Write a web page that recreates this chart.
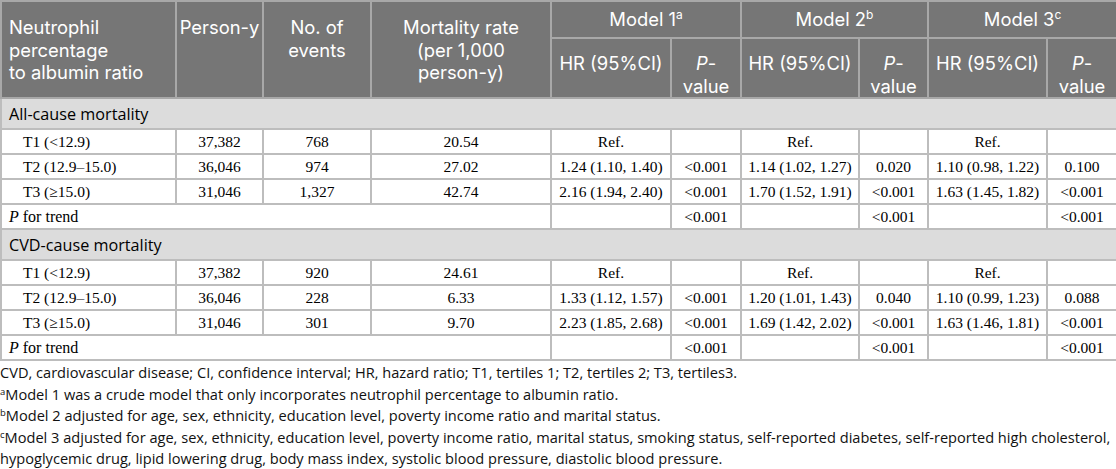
<!DOCTYPE html>
<html>
<head>
<meta charset="utf-8">
<script src="https://cdn.jsdelivr.net/npm/chart.js@4.4.1/dist/chart.umd.min.js"></script>
<style>
  html, body { margin: 0; padding: 0; background: #ffffff; }
  body { width: 1116px; height: 469px; overflow: hidden; position: relative; }
  table { border-collapse: collapse; table-layout: fixed; width: 1116px; position: absolute; left: 0; top: 0; }
  th { background: #767676; color: #ffffff; font-family: "Inter", "Open Sans", sans-serif; font-weight: normal;
       font-size: 18.4px; line-height: 22.5px; border: 2px solid #a8a8a8; padding: 0 2px; white-space: nowrap; }
  th.left { text-align: left; padding-left: 7px; vertical-align: top; padding-top: 14px; }
  th.top { vertical-align: top; padding-top: 14px; text-align: center; }
  th.model { vertical-align: middle; text-align: center; padding-top: 0; }
  th.sub { vertical-align: top; padding-top: 13px; text-align: center; }
  th sup { font-size: 12px; line-height: 0; vertical-align: 7px; }
  td { font-family: "Liberation Serif", "Times New Roman", serif; font-size: 15.5px; color: #000;
       border: 2px solid #bdbdbd; text-align: center; vertical-align: middle; padding: 0 2px; white-space: nowrap; }
  td.tert { text-align: left; padding-left: 21px; }
  td.trend { text-align: left; padding-left: 7px; font-size: 16px; }
  td.section { background: #dcdcdc; text-align: left; padding-left: 7px;
               font-family: "Open Sans", sans-serif; font-size: 16.2px; color: #000; }
  tr.h1 { height: 37px; }
  tr.h2 { height: 60px; }
  tr.sec { height: 31px; }
  tr.row { height: 25px; }
  #notes { position: absolute; left: 0; top: 362px; width: 1116px; font-family: "Open Sans", sans-serif;
           font-size: 14.6px; line-height: 21.5px; color: #111; white-space: nowrap; }
  #notes sup { font-size: 9.5px; line-height: 0; vertical-align: 5px; }
</style>
</head>
<body>
<table id="tbl"></table>
<div id="notes"></div>
<script>
const headerLeft = ['Neutrophil<br>percentage<br>to albumin ratio', 'Person-y', 'No. of<br>events', 'Mortality rate<br>(per 1,000<br>person-y)'];
const modelNames = ['Model 1', 'Model 2', 'Model 3'];
const modelMarks = ['a', 'b', 'c'];
const groups = ['All-cause mortality', 'CVD-cause mortality'];
const tertiles = ['T1 (<12.9)', 'T2 (12.9–15.0)', 'T3 (≥15.0)'];
const personYears = [['37,382', '36,046', '31,046'], ['37,382', '36,046', '31,046']];
const events = [['768', '974', '1,327'], ['920', '228', '301']];
const rates = [['20.54', '27.02', '42.74'], ['24.61', '6.33', '9.70']];
const model1HR = [['Ref.', '1.24 (1.10, 1.40)', '2.16 (1.94, 2.40)'], ['Ref.', '1.33 (1.12, 1.57)', '2.23 (1.85, 2.68)']];
const model1P = [['', '<0.001', '<0.001'], ['', '<0.001', '<0.001']];
const model2HR = [['Ref.', '1.14 (1.02, 1.27)', '1.70 (1.52, 1.91)'], ['Ref.', '1.20 (1.01, 1.43)', '1.69 (1.42, 2.02)']];
const model2P = [['', '0.020', '<0.001'], ['', '0.040', '<0.001']];
const model3HR = [['Ref.', '1.10 (0.98, 1.22)', '1.63 (1.45, 1.82)'], ['Ref.', '1.10 (0.99, 1.23)', '1.63 (1.46, 1.81)']];
const model3P = [['', '0.100', '<0.001'], ['', '0.088', '<0.001']];
const trendP = [['<0.001', '<0.001', '<0.001'], ['<0.001', '<0.001', '<0.001']];
const footnotes = [
  ['', 'CVD, cardiovascular disease; CI, confidence interval; HR, hazard ratio; T1, tertiles 1; T2, tertiles 2; T3, tertiles3.'],
  ['a', 'Model 1 was a crude model that only incorporates neutrophil percentage to albumin ratio.'],
  ['b', 'Model 2 adjusted for age, sex, ethnicity, education level, poverty income ratio and marital status.'],
  ['c', 'Model 3 adjusted for age, sex, ethnicity, education level, poverty income ratio, marital status, smoking status, self-reported diabetes, self-reported high cholesterol,'],
  ['', 'hypoglycemic drug, lipid lowering drug, body mass index, systolic blood pressure, diastolic blood pressure.']
];
const colWidths = [175, 87, 108, 180, 120, 70, 118, 69, 119, 70];

// ---- Build table ----
const esc = s => s.replace(/&/g, '&amp;').replace(/</g, '&lt;').replace(/>/g, '&gt;');
let html = '<colgroup>' + colWidths.map(w => `<col style="width:${w}px">`).join('') + '</colgroup>';
html += '<tr class="h1">';
headerLeft.forEach((h, i) => {
  html += `<th rowspan="2" class="${i === 0 ? 'left' : 'top'}">${h}</th>`;
});
modelNames.forEach((m, i) => {
  html += `<th colspan="2" class="model">${m}<sup>${modelMarks[i]}</sup></th>`;
});
html += '</tr><tr class="h2">';
modelNames.forEach(() => {
  html += '<th class="sub">HR (95%CI)</th><th class="sub"><i>P</i>-<br>value</th>';
});
html += '</tr>';
const hrs = [model1HR, model2HR, model3HR];
const ps = [model1P, model2P, model3P];
groups.forEach((g, gi) => {
  html += `<tr class="sec"><td colspan="10" class="section">${esc(g)}</td></tr>`;
  tertiles.forEach((t, ti) => {
    html += `<tr class="row"><td class="tert">${esc(t)}</td><td>${personYears[gi][ti]}</td><td>${events[gi][ti]}</td><td>${rates[gi][ti]}</td>`;
    for (let m = 0; m < 3; m++) {
      html += `<td>${esc(hrs[m][gi][ti])}</td><td>${esc(ps[m][gi][ti])}</td>`;
    }
    html += '</tr>';
  });
  html += '<tr class="row"><td colspan="4" class="trend"><i>P</i> for trend</td>';
  for (let m = 0; m < 3; m++) {
    html += `<td></td><td>${esc(trendP[gi][m])}</td>`;
  }
  html += '</tr>';
});
document.getElementById('tbl').innerHTML = html;

document.getElementById('notes').innerHTML = footnotes.map(([mark, text]) =>
  `<div>${mark ? '<sup>' + mark + '</sup>' : ''}${esc(text)}</div>`).join('');
</script>
</body>
</html>
